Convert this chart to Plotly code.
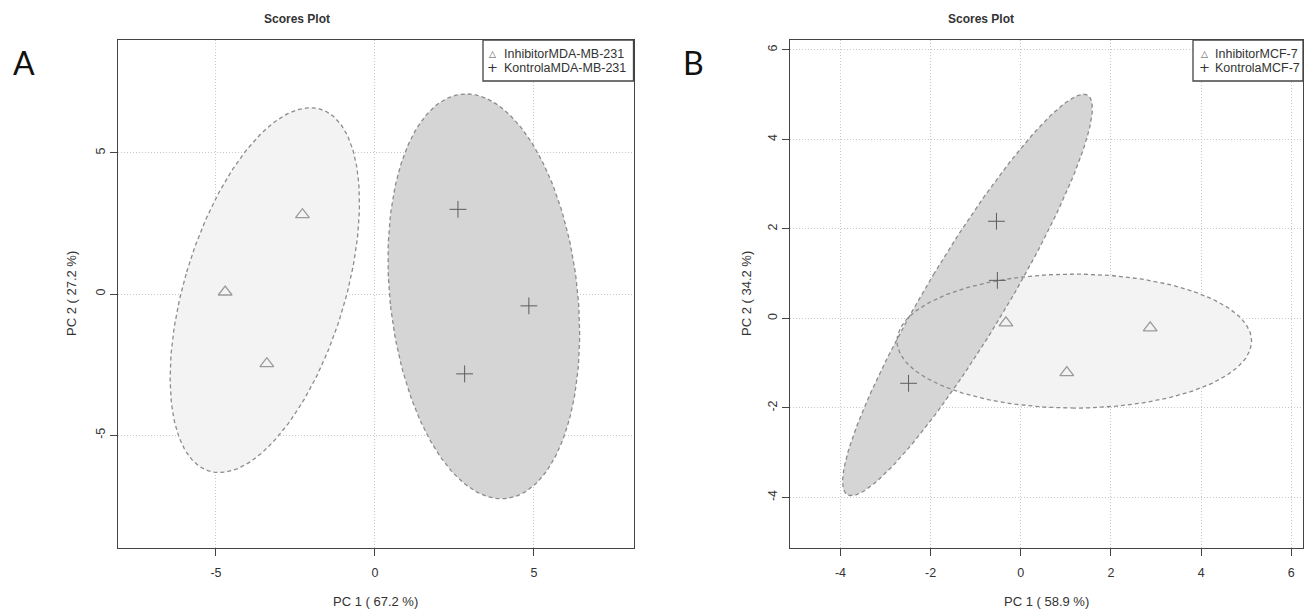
import numpy as np
import plotly.graph_objects as go

W, H = 1306, 614

# ---------------- data ----------------
# Panel A (MDA-MB-231)
a_names = ["InhibitorMDA-MB-231", "KontrolaMDA-MB-231"]
a_inh_pc1 = [-2.28, -4.71, -3.40]
a_inh_pc2 = [2.81, 0.07, -2.47]
a_kon_pc1 = [2.61, 4.84, 2.82]
a_kon_pc2 = [3.00, -0.42, -2.83]
a_xtitle = "PC 1 ( 67.2 %)"
a_ytitle = "PC 2 ( 27.2 %)"
a_xticks = [-5, 0, 5]
a_yticks = [-5, 0, 5]

# Panel B (MCF-7)
b_names = ["InhibitorMCF-7", "KontrolaMCF-7"]
b_inh_pc1 = [-0.33, 1.02, 2.87]
b_inh_pc2 = [-0.10, -1.21, -0.21]
b_kon_pc1 = [-0.54, -0.52, -2.49]
b_kon_pc2 = [2.17, 0.85, -1.45]
b_xtitle = "PC 1 ( 58.9 %)"
b_ytitle = "PC 2 ( 34.2 %)"
b_xticks = [-4, -2, 0, 2, 4, 6]
b_yticks = [-4, -2, 0, 2, 4, 6]

plot_title = "Scores Plot"
panel_labels = ["A", "B"]

# ---------------- styling ----------------
LIGHT_FILL = "#f3f3f3"
DARK_FILL = "#d5d5d5"
BORDER = "#8c8c8c"
TRI_COL = "#9a9a9a"
PLUS_COL = "#5c5c5c"
TXT = "#333333"
FONT = "Liberation Sans"


def conf_ellipse(x, y, n=240):
    """95% confidence ellipse (chi-square, 2 df) from group scores."""
    pts = np.vstack([np.asarray(x, float), np.asarray(y, float)])
    c = pts.mean(axis=1)
    cov = np.cov(pts)
    vals, vecs = np.linalg.eigh(cov)
    t = np.sqrt(5.991464547107979)
    th = np.linspace(0, 2 * np.pi, n)
    circ = np.vstack([np.cos(th), np.sin(th)])
    e = vecs @ (np.sqrt(np.clip(vals, 0, None))[:, None] * circ) * t + c[:, None]
    return e[0], e[1]


def px(x):
    return x / W


def py(y):
    return 1 - y / H


fig = go.Figure()

panels = [
    dict(xa="x", ya="y", inh=(a_inh_pc1, a_inh_pc2), kon=(a_kon_pc1, a_kon_pc2)),
    dict(xa="x2", ya="y2", inh=(b_inh_pc1, b_inh_pc2), kon=(b_kon_pc1, b_kon_pc2)),
]

for p in panels:
    ex1, ey1 = conf_ellipse(*p["inh"])
    ex2, ey2 = conf_ellipse(*p["kon"])
    # fills
    fig.add_trace(go.Scatter(x=ex1, y=ey1, mode="lines", fill="toself", fillcolor=LIGHT_FILL,
                             line=dict(width=0, color="rgba(0,0,0,0)"), xaxis=p["xa"], yaxis=p["ya"],
                             showlegend=False, hoverinfo="skip"))
    fig.add_trace(go.Scatter(x=ex2, y=ey2, mode="lines", fill="toself", fillcolor=DARK_FILL,
                             line=dict(width=0, color="rgba(0,0,0,0)"), xaxis=p["xa"], yaxis=p["ya"],
                             showlegend=False, hoverinfo="skip"))
    # dashed borders
    for ex, ey in [(ex1, ey1), (ex2, ey2)]:
        fig.add_trace(go.Scatter(x=ex, y=ey, mode="lines",
                                 line=dict(width=1.3, color=BORDER, dash="4px,3px"),
                                 xaxis=p["xa"], yaxis=p["ya"], showlegend=False, hoverinfo="skip"))
    # points
    fig.add_trace(go.Scatter(x=p["inh"][0], y=p["inh"][1], mode="markers",
                             marker=dict(symbol="triangle-up-open", size=12, color=TRI_COL,
                                         line=dict(width=1.3, color=TRI_COL)),
                             xaxis=p["xa"], yaxis=p["ya"], showlegend=False))
    fig.add_trace(go.Scatter(x=p["kon"][0], y=p["kon"][1], mode="markers",
                             marker=dict(symbol="cross-thin-open", size=12, color=PLUS_COL,
                                         line=dict(width=1.0, color=PLUS_COL)),
                             xaxis=p["xa"], yaxis=p["ya"], showlegend=False))

# ---------------- axes ----------------
TOP, BOT = 40, 548
A_L, A_R = 118, 633.5
B_L, B_R = 790, 1303
ydom = [py(BOT), py(TOP)]

common = dict(showline=True, mirror=True, linecolor="#444444", linewidth=1.3,
              ticks="outside", ticklen=7, tickwidth=1.2, tickcolor="#444444",
              showgrid=True, gridcolor="#c8c8c8", griddash="1px,2px", gridwidth=1,
              zeroline=False, tickfont=dict(family=FONT, size=12.5, color=TXT),
              automargin=False, fixedrange=True)


def labels(ticks):
    return [str(v) for v in ticks]


fig.update_layout(
    xaxis=dict(domain=[px(A_L), px(A_R)], range=[-8.08, 8.13], tickvals=a_xticks,
               ticktext=labels(a_xticks), anchor="y", ticklabelstandoff=6, **common),
    yaxis=dict(domain=ydom, range=[-9.0, 9.0], tickvals=a_yticks, ticktext=labels(a_yticks),
               anchor="x", tickangle=-90, ticklabelstandoff=0, **common),
    xaxis2=dict(domain=[px(B_L), px(B_R)], range=[-5.12, 6.26], tickvals=b_xticks,
                ticktext=labels(b_xticks), anchor="y2", ticklabelstandoff=6, **common),
    yaxis2=dict(domain=ydom, range=[-5.13, 6.22], tickvals=b_yticks, ticktext=labels(b_yticks),
                anchor="x2", tickangle=-90, ticklabelstandoff=0, **common),
)

annotations = []
shapes = []


def txt(x, y, s, size=12, bold=False, angle=0, xanchor="center", family=FONT, color=TXT):
    annotations.append(dict(x=px(x), y=py(y), xref="paper", yref="paper", text=("<b>%s</b>" % s) if bold else s,
                            showarrow=False, xanchor=xanchor, yanchor="middle", textangle=angle,
                            font=dict(family=family, size=size, color=color)))


# titles
txt(297, 19, plot_title, size=12, bold=True)
txt(981, 19, plot_title, size=12, bold=True)
# panel letters
txt(24, 62, panel_labels[0], size=32, family="Lato", color="#111111")
txt(693, 62, panel_labels[1], size=32, family="Lato", color="#111111")
# axis titles
txt((A_L + A_R) / 2, 601, a_xtitle, size=13)
txt((B_L + B_R) / 2, 601, b_xtitle, size=13)
txt(71, (TOP + BOT) / 2, a_ytitle, size=13, angle=-90)
txt(746, (TOP + BOT) / 2, b_ytitle, size=13, angle=-90)

# legends (R-style boxed legend)
for (l, r, names, sym_x, text_x) in [(483, A_R, a_names, 492.5, 502),
                                       (1193, B_R, b_names, 1204, 1213)]:
    shapes.append(dict(type="rect", xref="paper", yref="paper", x0=px(l), x1=px(r), y0=py(81), y1=py(TOP),
                       line=dict(color="#444444", width=1.3), fillcolor="white", layer="above"))
    txt(sym_x, 53.5, "\u25b3", size=9, family="DejaVu Sans", color="#555555")
    txt(sym_x, 67.5, "+", size=13, family="DejaVu Sans", color="#333333")
    txt(text_x, 54, names[0], size=12.5, xanchor="left")
    txt(text_x, 68, names[1], size=12.5, xanchor="left")

fig.update_layout(
    width=W, height=H,
    margin=dict(l=0, r=0, t=0, b=0),
    paper_bgcolor="white", plot_bgcolor="white",
    showlegend=False,
    annotations=annotations, shapes=shapes,
    font=dict(family=FONT, color=TXT),
)

fig.write_html("out.html", config={"displayModeBar": False},
               post_script="document.body.style.margin='0';document.body.style.overflow='hidden';")
